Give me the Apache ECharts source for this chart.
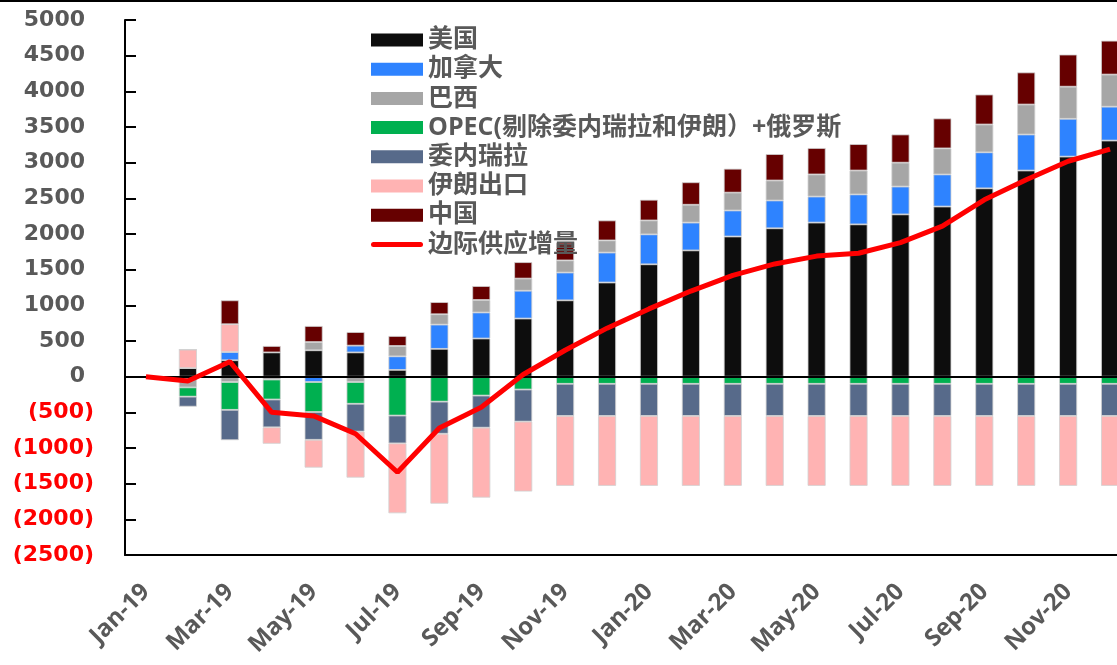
<!DOCTYPE html>
<html>
<head>
<meta charset="utf-8">
<script src="https://cdn.jsdelivr.net/npm/echarts@6/dist/echarts.min.js"></script>
<style>
  html, body {margin: 0; padding: 0; background: #fff; overflow: hidden;}
  #main {width: 1131px; height: 665px;}
</style>
</head>
<body>
<div id="main"></div>
<script>
  var months = ["Jan-19", "Feb-19", "Mar-19", "Apr-19", "May-19", "Jun-19", "Jul-19", "Aug-19", "Sep-19", "Oct-19", "Nov-19", "Dec-19",
    "Jan-20", "Feb-20", "Mar-20", "Apr-20", "May-20", "Jun-20", "Jul-20", "Aug-20", "Sep-20", "Oct-20", "Nov-20", "Dec-20"];

  // 各国供应增量（千桶/日）
  var usa = [0, 120, 230, 340, 370, 340, 95, 390, 535, 815, 1070, 1320, 1575, 1770, 1965, 2080, 2160, 2135, 2275, 2385, 2640, 2890, 3085, 3310];
  var canada = [0, 0, 115, 0, -75, 95, 190, 340, 365, 390, 390, 420, 420, 390, 365, 390, 365, 420, 390, 450, 505, 505, 530, 475];
  var brazil = [0, -150, -75, -40, 115, -75, 145, 145, 175, 170, 170, 170, 195, 250, 250, 280, 310, 335, 335, 365, 390, 420, 450, 450];
  var opec = [0, -130, -390, -280, -420, -305, -545, -350, -265, -180, -100, -100, -100, -100, -100, -100, -100, -100, -100, -100, -100, -100, -100, -100];
  var venezuela = [0, -140, -425, -390, -390, -390, -390, -450, -450, -450, -450, -450, -450, -450, -450, -450, -450, -450, -450, -450, -450, -450, -450, -450];
  var iran = [0, 260, 390, -230, -390, -645, -980, -980, -980, -980, -980, -980, -980, -980, -980, -980, -980, -980, -980, -980, -980, -980, -980, -980];
  var china = [0, 0, 335, 90, 225, 190, 140, 170, 195, 230, 250, 280, 290, 315, 335, 370, 370, 370, 395, 420, 420, 450, 450, 475];
  var marginal = [0, -60, 210, -500, -550, -800, -1340, -720, -430, 30, 370, 680, 950, 1200, 1420, 1580, 1690, 1730, 1880, 2110, 2480, 2760, 3020, 3190];

  var yTicks = {min: -2500, max: 5000, interval: 500};

  var chartDom = echarts.init(document.getElementById("main"));

  function barSeries(name, data, color){
    return {
      name: name,
      type: "bar",
      stack: "supply",
      barWidth: 18,
      itemStyle: {color: color, borderColor: "#d0d0d0", borderWidth: 0.8},
      data: data
    }
  }

  function getOptions(){
    var labelColor = "#595959",
      cjk = "'Open Sans', 'Noto Sans CJK SC', sans-serif",
      series = [
        barSeries("美国", usa, "#0d0d0d"),
        barSeries("加拿大", canada, "#2e83ff"),
        barSeries("巴西", brazil, "#a6a6a6"),
        barSeries("OPEC(剔除委内瑞拉和伊朗）+俄罗斯", opec, "#00b050"),
        barSeries("委内瑞拉", venezuela, "#576a8a"),
        barSeries("伊朗出口", iran, "#ffb3b3"),
        barSeries("中国", china, "#660000")
      ];

    // 零轴黑线
    series[0].markLine = {
      silent: true,
      symbol: "none",
      label: {show: false},
      lineStyle: {color: "#000", width: 2, type: "solid"},
      data: [{yAxis: 0}]
    };

    series.push({
      name: "边际供应增量",
      type: "line",
      symbol: "none",
      z: 5,
      lineStyle: {color: "#ff0000", width: 5},
      itemStyle: {color: "#ff0000"},
      data: marginal
    });

    return {
      animation: false,
      backgroundColor: "#fff",
      grid: {left: 125, right: 0, top: 20, bottom: 110},
      legend: {
        orient: "vertical",
        left: 371,
        top: 27,
        padding: 0,
        itemWidth: 52,
        itemHeight: 13,
        itemGap: 3.2,
        itemStyle: {borderWidth: 0},
        textStyle: {fontFamily: cjk, fontSize: 25, fontWeight: "bold", color: labelColor, lineHeight: 26},
        data: [
          {name: "美国", icon: "rect"},
          {name: "加拿大", icon: "rect"},
          {name: "巴西", icon: "rect"},
          {name: "OPEC(剔除委内瑞拉和伊朗）+俄罗斯", icon: "rect"},
          {name: "委内瑞拉", icon: "rect"},
          {name: "伊朗出口", icon: "rect"},
          {name: "中国", icon: "rect"},
          // 图例里只画一段粗红线
          {name: "边际供应增量", icon: "path://M2.5,0 H49.5 A2.5,2.5 0 0 1 49.5,5 H2.5 A2.5,2.5 0 0 1 2.5,0 Z",
            itemStyle: {color: "#ff0000", borderWidth: 0}}
        ]
      },
      xAxis: {
        type: "category",
        data: months,
        axisLine: {onZero: false, lineStyle: {color: "#000", width: 2}},
        axisTick: {show: false},
        axisLabel: {
          interval: 1,
          rotate: 45,
          margin: 33,
          fontFamily: "'Open Sans', sans-serif",
          fontWeight: "bold",
          fontSize: 24,
          color: labelColor
        }
      },
      yAxis: {
        type: "value",
        min: yTicks.min,
        max: yTicks.max,
        interval: yTicks.interval,
        splitLine: {show: false},
        axisLine: {show: true, lineStyle: {color: "#000", width: 2}},
        axisTick: {show: true, inside: true, length: 11, lineStyle: {color: "#000", width: 2}},
        axisLabel: {
          margin: 31,
          formatter: function(v){
            return v < 0 ? "{n|(" + (-v) + ")}" : "{p|" + v + "}";
          },
          rich: {
            p: {fontFamily: "'DejaVu Sans', sans-serif", fontWeight: "bold", fontSize: 22, color: labelColor, padding: [0, 9, 0, 0]},
            n: {fontFamily: "'DejaVu Sans', sans-serif", fontWeight: "bold", fontSize: 22, color: "#ff0000"}
          }
        }
      },
      graphic: [
        {type: "line", shape: {x1: 0, y1: 1, x2: 1131, y2: 1}, style: {stroke: "#000", lineWidth: 2}}
      ],
      series: series
    };
  }

  chartDom.setOption(getOptions());
</script>
</body>
</html>
